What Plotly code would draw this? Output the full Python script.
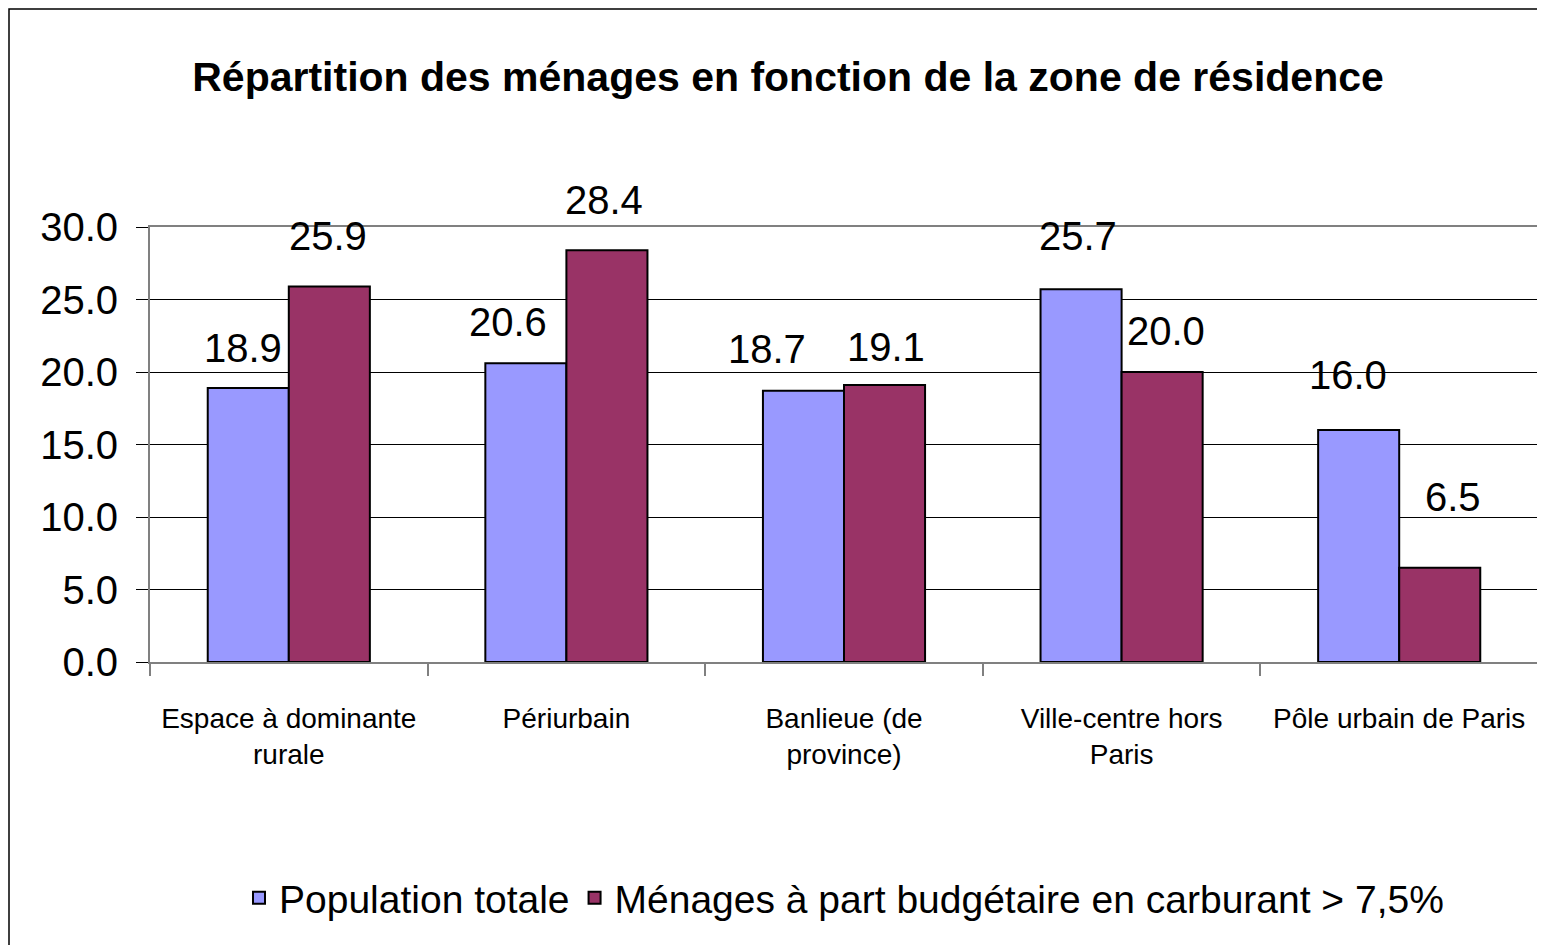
import plotly.graph_objects as go

categories = ["Espace à dominante<br>rurale", "Périurbain", "Banlieue (de<br>province)",
              "Ville-centre hors<br>Paris", "Pôle urbain de Paris"]
population_totale = [18.9, 20.6, 18.7, 25.7, 16.0]
menages_carburant = [25.9, 28.4, 19.1, 20.0, 6.5]
series_names = ["Population totale", "Ménages à part budgétaire en carburant > 7,5%"]
y_ticks = [0, 5, 10, 15, 20, 25, 30]

# label placement tweaks (pixels), as in the original chart
label_dx = [[-5, -18, -37, -3, -11], [-1, -3, 1, 4, 13]]
label_dy = [[40, 41, 42, 53, 55], [50, 50, 38, 41, 71]]

FONT = "Liberation Sans, Arial, sans-serif"
colors = ["#9999FF", "#993366"]
series_values = [population_totale, menages_carburant]

fig = go.Figure()
for name, vals, col in zip(series_names, series_values, colors):
    fig.add_trace(go.Bar(
        x=categories, y=vals, name=name,
        marker=dict(color=col, line=dict(color="black", width=2)),
        cliponaxis=False,
    ))

# data labels above bars
offsets = [-40.5, 40.5]
for s, (vals, dx) in enumerate(zip(series_values, offsets)):
    for j, (c, v) in enumerate(zip(categories, vals)):
        fig.add_annotation(x=c, y=v, text=f"{v:.1f}", showarrow=False,
                           xshift=dx + label_dx[s][j], yshift=label_dy[s][j] - 24,
                           yanchor="bottom", xanchor="center",
                           font=dict(size=40, family=FONT, color="black"))

fig.update_layout(
    width=1545, height=945,
    margin=dict(l=142, r=15, t=219, b=291, autoexpand=False),
    paper_bgcolor="white", plot_bgcolor="white",
    font=dict(family=FONT, color="black"),
    barmode="group", bargap=0.416, bargroupgap=0,
    title=dict(text="<b>Répartition des ménages en fonction de la zone de résidence</b>",
               x=780/1545, xanchor="center", y=1-69/945, yanchor="middle",
               font=dict(size=41, family=FONT, color="black")),
    showlegend=True,
    legend=dict(orientation="h", x=0.5, xanchor="center", y=(662-898)/435, yanchor="middle",
                font=dict(size=39, family=FONT, color="black"), bgcolor="rgba(0,0,0,0)",
                traceorder="normal", itemwidth=30),
)
fig.update_yaxes(
    range=[0, 30], tickvals=y_ticks, tickformat=".1f",
    showgrid=True, gridcolor="black", gridwidth=1,
    showline=True, linecolor="#808080", linewidth=2, mirror=True,
    ticks="outside", ticklen=12, tickcolor="black", tickwidth=1,
    tickfont=dict(size=40, family=FONT, color="black"),
    ticklabelstandoff=10, zeroline=False,
)
fig.update_xaxes(
    showline=True, linecolor="#808080", linewidth=2, mirror=True,
    ticks="outside", ticklen=12, tickcolor="#808080", tickwidth=2, tickson="boundaries",
    tickfont=dict(size=28, family=FONT, color="black"), tickangle=0,
    ticklabelstandoff=30,
)
# figure border (outer frame)
fig.add_shape(type="rect", xref="paper", yref="paper",
              x0=(9-150)/1388, x1=(1570-150)/1388, y0=(662-970)/435, y1=(662-9)/435,
              line=dict(color="black", width=1.5), fillcolor="rgba(0,0,0,0)", layer="below")

fig.write_html("out.html")
